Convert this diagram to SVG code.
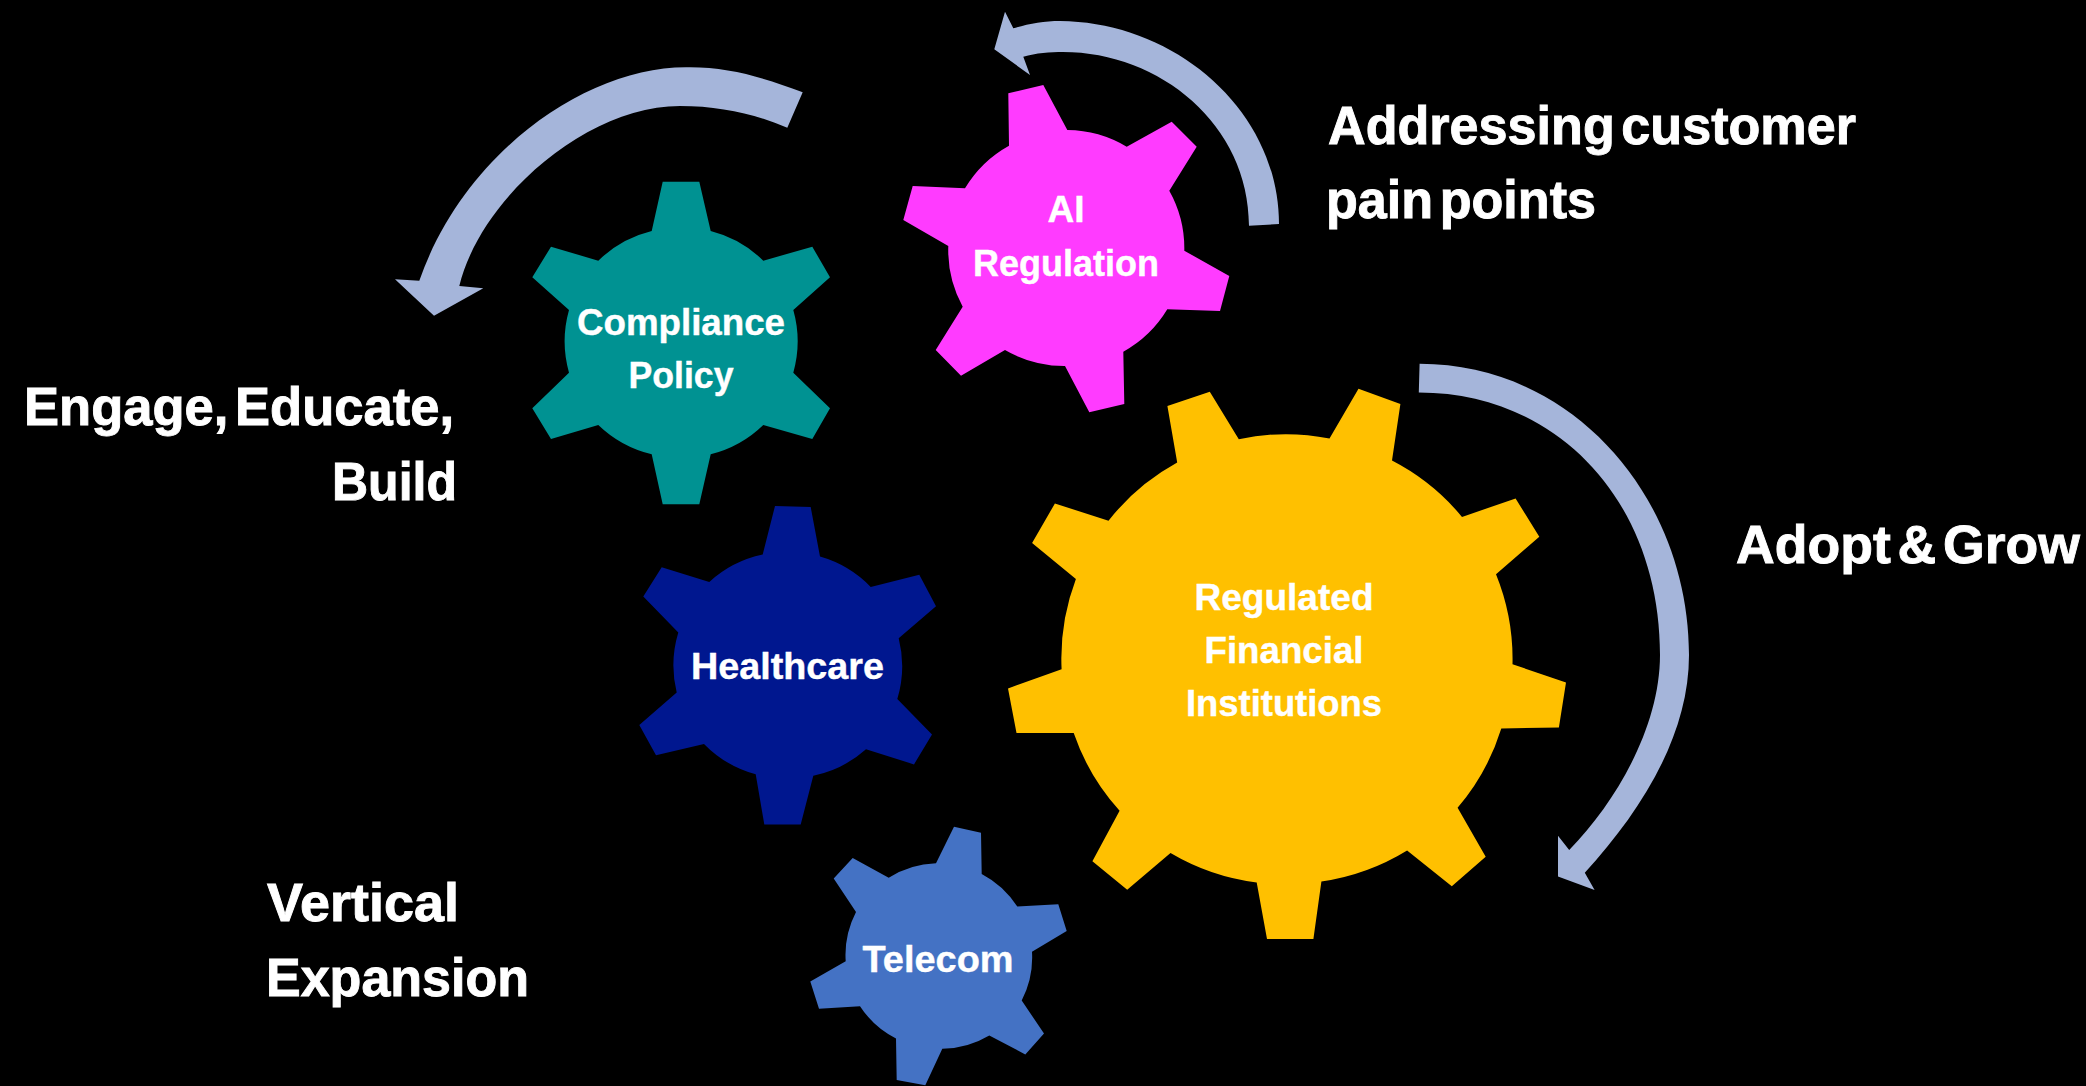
<svg xmlns="http://www.w3.org/2000/svg" width="2086" height="1086" viewBox="0 0 2086 1086">
<style>
text{font-family:"Liberation Sans",Arial,sans-serif;font-weight:700;fill:#fff;stroke:#fff;}
.big{font-size:53px;word-spacing:-8px;stroke-width:.9px;}
.lab{font-size:37px;text-anchor:middle;stroke-width:.4px;}
.arrow{fill:#A5B5DA;}
</style>
<rect width="2086" height="1086" fill="#000"/>
<g id="connectors">
<path class="arrow" d="M1279 224C1279 110 1175 22 1060 21C1044 21 1028 24 1013.3 28.3L1005 11.7L994.3 49.3L1030 75L1023.3 56.7C1036 53 1050 52 1063 52C1160 52 1249 125 1249 225.7Z"/>
<path class="arrow" d="M802.7 92.3C765 78 730 67.3 690 67.3C590 65 465 150 419.3 280.7L395 279.3L434 315.7L483.3 288.3L459.3 286C480 200 585 106 680 106C720 106 755 114 787.3 127.7Z"/>
<path class="arrow" d="M1419.6 363.8C1575 363.8 1689 500 1689 655C1689 735 1642 810 1584.8 872.8L1594.6 890L1558 876.6L1558 835.7L1569.2 849.9C1618 800 1660 725 1660 655C1660 503 1559 392.5 1418.8 392.5Z"/>
</g>
<g id="gear-ai">
<path fill="#FF3BFF" d="M1008.3 93.3L1043.3 85L1067.3 130A118 118 0 0 1 1126.7 146.7L1171.7 121.7L1196.7 146.7L1169.3 190.7A118 118 0 0 1 1184.3 250.7L1229.3 276L1220 311L1167.3 309.3A118 118 0 0 1 1123.3 351.7L1124.3 404L1089.3 412.3L1065 366A118 118 0 0 1 1005 350L961 375.7L935.7 350L962.7 306.7A118 118 0 0 1 948.3 246L903.3 220L912.7 186L965 188.3A118 118 0 0 1 1009 145.7Z"/>
<text class="lab" x="1066" y="222" textLength="37" lengthAdjust="spacingAndGlyphs">AI</text>
<text class="lab" x="1066" y="276" textLength="186" lengthAdjust="spacingAndGlyphs">Regulation</text>
</g>
<g id="gear-compliance">
<path fill="#009292" d="M651.7 231L662.7 181.7L699.3 181.7L710.7 231A116 116 0 0 1 763.3 260.7L812.3 246.7L830 277.3L793.3 310A116 116 0 0 1 793.3 372.7L830 408.3L812.3 439L763.3 425A116 116 0 0 1 710.7 454.3L699.3 504.3L662.7 504.3L651.7 454.3A116 116 0 0 1 598.3 425L551 439L532.3 408.3L569 372.7A116 116 0 0 1 569 310L532.3 277.3L551 246.7L598.3 260.7A116 116 0 0 1 651.7 231Z"/>
<text class="lab" x="681" y="335" textLength="208" lengthAdjust="spacingAndGlyphs">Compliance</text>
<text class="lab" x="681" y="388" textLength="105" lengthAdjust="spacingAndGlyphs">Policy</text>
</g>
<g id="gear-financial">
<path fill="#FFC000" d="M1177.2 462.6L1167.4 405.9L1209.8 391.8L1238.8 439.2A225 225 0 0 1 1329.5 438.5L1358.5 388.7L1400.4 404L1392 460.6A225 225 0 0 1 1462 516.9L1515.6 498.5L1539.3 536.8L1496 574.3A225 225 0 0 1 1512.5 664.2L1566 682.6L1558.9 727.4L1501.3 728.5A225 225 0 0 1 1457.6 807.8L1485.7 856.8L1451.8 886.2L1407.1 850.6A225 225 0 0 1 1321.4 881.6L1313.4 939L1267 939L1256.7 882.4A225 225 0 0 1 1170.5 852.9L1127.2 889.7L1092.4 861.3L1119.6 810.8A225 225 0 0 1 1073.7 733.1L1016.5 733.1L1008 688.4L1061.6 669.2A225 225 0 0 1 1075.9 578.9L1032.1 542.9L1054.9 503.5L1108.5 520.7A225 225 0 0 1 1177.2 462.6Z"/>
<text class="lab" x="1284" y="610" textLength="179" lengthAdjust="spacingAndGlyphs">Regulated</text>
<text class="lab" x="1284" y="663" textLength="159" lengthAdjust="spacingAndGlyphs">Financial</text>
<text class="lab" x="1284" y="716" textLength="196" lengthAdjust="spacingAndGlyphs">Institutions</text>
</g>
<g id="gear-healthcare">
<path fill="#00178F" d="M762.7 554.6L775 506L810.7 507.1L820 556.5A114 114 0 0 1 870.7 586.9L919.3 574.8L936 606.3L898.7 638.2A114 114 0 0 1 897.3 699L932 734.4L914 764.4L866 749.2A114 114 0 0 1 813.3 775.8L800.7 824.5L764.3 824.5L755.7 774.3A114 114 0 0 1 704 743.9L656 755.3L639.3 724.9L676.7 692.6A114 114 0 0 1 678.3 632.5L643.3 596.4L661.7 567.2L709.3 582A114 114 0 0 1 762.7 554.6Z"/>
<text class="lab" x="787.5" y="679" textLength="193" lengthAdjust="spacingAndGlyphs">Healthcare</text>
</g>
<g id="gear-telecom">
<path fill="#4472C4" d="M936 863.2L954 826.8L981 832.8L981.7 873.9A94 94 0 0 1 1017.3 906.6L1058.3 904.3L1066.7 930.9L1032 951.8A94 94 0 0 1 1021.7 1000.5L1044 1033.5L1025.3 1054.4L989.3 1035.4A94 94 0 0 1 942.3 1048.7L925.3 1085.2L896.7 1079.9L896 1038.5A94 94 0 0 1 860 1006.2L819 1008.8L810.3 981.4L845.7 961.3A94 94 0 0 1 856 911.9L833.7 878.4L852.7 857.9L888.7 877.7A94 94 0 0 1 936 863.2Z"/>
<text class="lab" x="938" y="972" textLength="151" lengthAdjust="spacingAndGlyphs">Telecom</text>
</g>
<g id="labels">
<text class="big" x="1328" y="144" textLength="528" lengthAdjust="spacingAndGlyphs">Addressing customer</text>
<text class="big" x="1326" y="218" textLength="270" lengthAdjust="spacingAndGlyphs">pain points</text>
<text class="big" x="1736" y="563" textLength="344" lengthAdjust="spacingAndGlyphs">Adopt &amp; Grow</text>
<text class="big" x="24" y="425" textLength="430" lengthAdjust="spacingAndGlyphs">Engage, Educate,</text>
<text class="big" x="332" y="500" textLength="125" lengthAdjust="spacingAndGlyphs">Build</text>
<text class="big" x="267" y="921" textLength="192" lengthAdjust="spacingAndGlyphs">Vertical</text>
<text class="big" x="266" y="996" textLength="263" lengthAdjust="spacingAndGlyphs">Expansion</text>
</g>
</svg>
